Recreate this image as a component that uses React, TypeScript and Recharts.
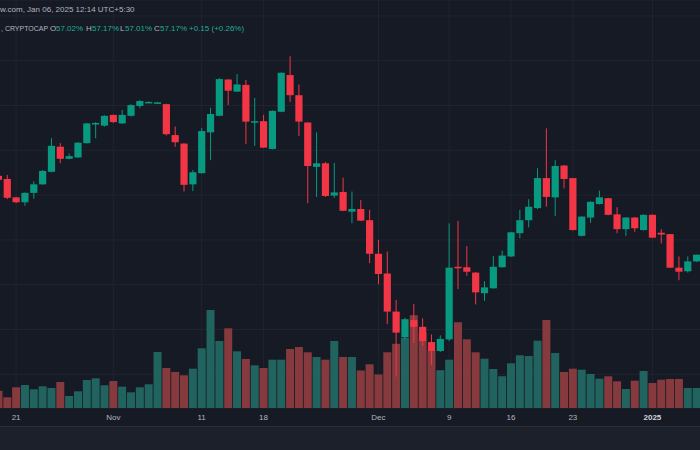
import { ComposedChart, Bar, XAxis, YAxis, CartesianGrid, Cell } from 'recharts';

const days = [
  'Oct 19', 'Oct 20', 'Oct 21', 'Oct 22', 'Oct 23', 'Oct 24', 'Oct 25', 'Oct 26', 'Oct 27', 'Oct 28',
  'Oct 29', 'Oct 30', 'Oct 31', 'Nov 1', 'Nov 2', 'Nov 3', 'Nov 4', 'Nov 5', 'Nov 6', 'Nov 7',
  'Nov 8', 'Nov 9', 'Nov 10', 'Nov 11', 'Nov 12', 'Nov 13', 'Nov 14', 'Nov 15', 'Nov 16', 'Nov 17',
  'Nov 18', 'Nov 19', 'Nov 20', 'Nov 21', 'Nov 22', 'Nov 23', 'Nov 24', 'Nov 25', 'Nov 26', 'Nov 27',
  'Nov 28', 'Nov 29', 'Nov 30', 'Dec 1', 'Dec 2', 'Dec 3', 'Dec 4', 'Dec 5', 'Dec 6', 'Dec 7',
  'Dec 8', 'Dec 9', 'Dec 10', 'Dec 11', 'Dec 12', 'Dec 13', 'Dec 14', 'Dec 15', 'Dec 16', 'Dec 17',
  'Dec 18', 'Dec 19', 'Dec 20', 'Dec 21', 'Dec 22', 'Dec 23', 'Dec 24', 'Dec 25', 'Dec 26', 'Dec 27',
  'Dec 28', 'Dec 29', 'Dec 30', 'Dec 31', 'Jan 1', 'Jan 2', 'Jan 3', 'Jan 4', 'Jan 5', 'Jan 6',
];

const opens = [
  58.93, 58.86, 58.45, 58.34, 58.55, 58.74, 59.02, 59.58, 59.31, 59.34,
  59.66, 60.10, 60.05, 60.29, 60.10, 60.27, 60.49, 60.57, 60.56, 60.53,
  59.84, 59.65, 58.74, 58.99, 59.90, 60.27, 61.08, 60.81, 60.96, 60.14,
  60.15, 59.53, 60.36, 61.18, 60.73, 60.12, 59.13, 59.21, 58.49, 58.57,
  58.13, 58.19, 57.94, 57.19, 56.75, 55.90, 55.33, 55.71, 55.56, 55.22,
  55.02, 55.28, 56.90, 56.89, 56.77, 56.31, 56.42, 56.89, 57.13, 57.65,
  57.94, 58.21, 58.88, 58.45, 59.16, 58.88, 57.59, 58.00, 58.30, 58.43,
  58.07, 57.74, 58.00, 57.72, 58.06, 57.66, 57.63, 56.88, 56.80, 57.02,
];

const highs = [
  58.95, 58.95, 58.46, 58.56, 58.81, 59.06, 59.77, 59.66, 59.43, 59.68,
  60.11, 60.13, 60.28, 60.30, 60.40, 60.53, 60.62, 60.59, 60.58, 60.54,
  60.03, 59.66, 59.06, 60.00, 60.45, 61.11, 61.09, 61.20, 61.07, 60.67,
  60.29, 60.39, 61.24, 61.60, 60.97, 60.13, 59.90, 59.24, 59.22, 58.89,
  58.58, 58.39, 58.17, 57.50, 57.24, 56.16, 55.76, 56.07, 55.75, 55.39,
  55.37, 57.87, 57.92, 57.36, 56.78, 56.58, 57.14, 57.26, 57.68, 58.17,
  58.41, 59.10, 59.99, 59.28, 59.17, 58.88, 58.03, 58.36, 58.60, 58.44,
  58.23, 58.01, 58.01, 58.07, 58.07, 57.74, 57.63, 57.13, 57.13, 57.17,
];

const lows = [
  58.81, 58.41, 58.32, 58.26, 58.42, 58.73, 59.01, 59.21, 59.30, 59.33,
  59.65, 59.77, 60.03, 60.11, 60.09, 60.25, 60.44, 60.56, 60.55, 59.83,
  59.58, 58.58, 58.59, 58.98, 59.28, 60.26, 60.51, 60.80, 59.64, 59.60,
  59.55, 59.52, 60.35, 60.58, 59.82, 58.32, 58.46, 58.46, 58.44, 58.14,
  57.87, 57.92, 56.98, 56.51, 55.62, 54.45, 55.27, 55.20, 55.13, 54.71,
  55.00, 55.24, 56.40, 56.70, 56.06, 56.14, 56.41, 56.88, 57.12, 57.54,
  57.78, 58.19, 58.24, 58.03, 58.65, 57.71, 57.58, 57.88, 58.29, 58.05,
  57.65, 57.59, 57.68, 57.71, 57.54, 57.42, 56.87, 56.60, 56.77, 57.01,
];

const closes = [
  58.84, 58.44, 58.34, 58.55, 58.74, 59.04, 59.60, 59.31, 59.37, 59.67,
  60.10, 60.11, 60.27, 60.13, 60.29, 60.51, 60.60, 60.58, 60.57, 59.86,
  59.68, 58.73, 59.01, 59.93, 60.31, 61.09, 60.83, 60.97, 60.14, 60.15,
  59.56, 60.38, 61.23, 60.73, 60.14, 59.15, 59.21, 58.48, 58.56, 58.15,
  58.19, 57.93, 57.19, 56.74, 55.90, 55.43, 55.73, 55.56, 55.24, 55.02,
  55.29, 56.88, 56.89, 56.79, 56.33, 56.44, 56.90, 57.15, 57.67, 57.94,
  58.24, 58.88, 58.46, 59.15, 58.86, 57.72, 58.02, 58.35, 58.45, 58.06,
  57.74, 58.00, 57.76, 58.06, 57.55, 57.62, 56.88, 56.79, 57.02, 57.17,
];

const volumes = [
  17.3, 10.7, 20.7, 23, 18.7, 21.7, 20, 26, 12, 16.7,
  28, 29.7, 22.7, 27, 21.3, 15.7, 20.7, 23.7, 56, 40,
  36, 32.7, 39.3, 59.7, 98, 67, 79.7, 56.7, 49, 42.7,
  40, 48.3, 48.3, 59, 61, 55.7, 51, 48.3, 67, 51,
  51, 37.5, 43.7, 33.5, 55.7, 64.2, 70.3, 92.7, 75.3, 57.3,
  37.8, 48.3, 85.7, 68.7, 55.7, 49.3, 39, 31.7, 44.7, 52.7,
  52, 67.3, 88, 55, 36, 39.3, 38.3, 34, 29.3, 31.7,
  26.7, 19, 27.3, 37, 25, 28.3, 29, 29, 20, 20,
];

const tickDays = ['Oct 21', 'Nov 1', 'Nov 11', 'Nov 18', 'Dec 1', 'Dec 9', 'Dec 16', 'Dec 23', 'Jan 1'];
const tickLabels = ['21', 'Nov', '11', '18', 'Dec', '9', '16', '23', '2025'];
const priceTicks = [54, 54.5, 55, 55.5, 56, 56.5, 57, 57.5, 58, 58.5, 59, 59.5, 60, 60.5, 61, 61.5, 62, 62.5];

const GREEN = '#089981';
const RED = '#f23645';
const VOL_GREEN = '#21645f';
const VOL_RED = '#873a3d';
const BG = '#161a25';
const FONT = '"Liberation Sans", Arial, sans-serif';

const data = days.map((day, i) => ({
  day,
  open: opens[i],
  high: highs[i],
  low: lows[i],
  close: closes[i],
  range: [lows[i], highs[i]],
  volume: volumes[i],
}));

// candle drawn from the [low, high] bar; body placed with the same scale ratio
const Candle = (props: any) => {
  const { x, y, width, height, payload } = props;
  const { open, close, high, low } = payload;
  const color = close >= open ? GREEN : RED;
  const top = Math.min(y, y + height);
  const h = Math.abs(height);
  const per = high - low > 0 ? h / (high - low) : 0;
  const cx = x + width / 2;
  const yo = top + (high - open) * per;
  const yc = top + (high - close) * per;
  const bodyTop = Math.min(yo, yc);
  const bodyH = Math.max(Math.abs(yo - yc), 1.5);
  return (
    <g>
      <line x1={cx} x2={cx} y1={top} y2={top + Math.max(h, 1)} stroke={color} strokeWidth={1} />
      <rect x={cx - 3.6} y={bodyTop} width={7.2} height={bodyH} fill={color} />
    </g>
  );
};

const DateTick = (props: any) => {
  const { x, y, payload } = props;
  const idx = tickDays.indexOf(payload.value);
  const label = idx >= 0 ? tickLabels[idx] : '';
  const bold = label === '2025';
  return (
    <text
      x={x}
      y={y + 12}
      textAnchor="middle"
      fontFamily={FONT}
      fontSize={8}
      fontWeight={bold ? 700 : 400}
      fill={bold ? '#d1d4dc' : '#b2b5be'}
    >
      {label}
    </text>
  );
};

const label = { position: 'absolute' as const, top: 24, fontSize: 8, fontFamily: FONT, color: '#b2b5be', whiteSpace: 'nowrap' as const };
const value = { ...label, color: '#22ab94' };

export default function App() {
  return (
    <div style={{ position: 'fixed', left: 0, top: 0, width: 700, height: 450, background: BG, overflow: 'hidden' }}>
      <div style={{ position: 'absolute', left: -6, top: 0 }}>
        <ComposedChart width={707} height={426} data={data} margin={{ top: 0, right: 0, bottom: 0, left: 0 }} barCategoryGap="5%">
          <CartesianGrid stroke="#20242f" strokeWidth={1} />
          <XAxis
            dataKey="day"
            ticks={tickDays}
            interval={0}
            height={18}
            tickLine={false}
            axisLine={false}
            tickSize={0}
            tickMargin={0}
            tick={<DateTick />}
          />
          <XAxis xAxisId="vol" dataKey="day" hide />
          <YAxis yAxisId={0} hide domain={[53.748, 62.855]} ticks={priceTicks} allowDataOverflow />
          <YAxis yAxisId="vol" hide domain={[0, 408]} allowDataOverflow />
          <Bar dataKey="volume" xAxisId="vol" yAxisId="vol" isAnimationActive={false}>
            {data.map((d, i) => (
              <Cell key={i} fill={d.close >= d.open ? VOL_GREEN : VOL_RED} />
            ))}
          </Bar>
          <Bar dataKey="range" yAxisId={0} shape={<Candle />} isAnimationActive={false} />
        </ComposedChart>
      </div>
      <div style={{ position: 'absolute', left: 0, top: 5, fontSize: 8, fontFamily: FONT, color: '#b2b5be', whiteSpace: 'nowrap' }}>
        w.com, Jan 06, 2025 12:14 UTC+5:30
      </div>
      <div style={{ ...label, left: 1, fontSize: 7, top: 25 }}>, CRYPTOCAP</div>
      <div style={{ ...label, left: 50 }}>O</div>
      <div style={{ ...value, left: 56 }}>57.02%</div>
      <div style={{ ...label, left: 86 }}>H</div>
      <div style={{ ...value, left: 92 }}>57.17%</div>
      <div style={{ ...label, left: 120 }}>L</div>
      <div style={{ ...value, left: 125 }}>57.01%</div>
      <div style={{ ...label, left: 154 }}>C</div>
      <div style={{ ...value, left: 160 }}>57.17%</div>
      <div style={{ ...value, left: 189 }}>+0.15 (+0.26%)</div>
      <div style={{ position: 'absolute', left: 0, top: 426, width: 700, height: 24, background: '#1c202b', borderTop: '1px solid #2a2e39' }} />
    </div>
  );
}
